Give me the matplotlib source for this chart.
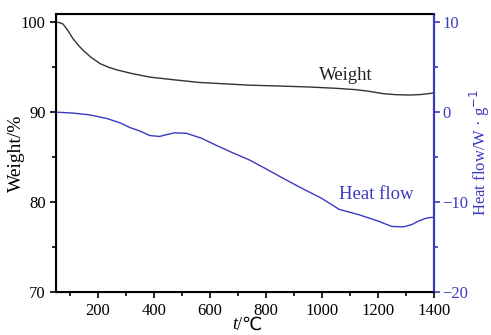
import matplotlib.pyplot as plt
from matplotlib.ticker import MultipleLocator

plt.rcParams['font.family'] = ['Liberation Serif', 'DejaVu Sans']

# 热重曲线 (温度, 失重%)
t_w = [50, 62, 75, 92, 110, 128, 146, 175, 207, 237, 267, 320, 384, 470, 562, 650, 740,
       850, 950, 1050, 1120, 1160, 1190, 1220, 1260, 1310, 1350, 1392, 1400]
weight = [100.0, 99.95, 99.8, 99.1, 98.2, 97.5, 96.9, 96.1, 95.4, 95.0, 94.7, 94.3, 93.9,
          93.6, 93.3, 93.15, 93.0, 92.9, 92.8, 92.65, 92.5, 92.35, 92.2, 92.05, 91.95, 91.9,
          91.95, 92.1, 92.15]

# 热流曲线 (温度, W/g)
t_h = [50, 110, 170, 231, 280, 313, 350, 385, 420, 445, 473, 516, 570, 623, 680, 740, 800,
       858, 918, 1000, 1061, 1132, 1200, 1249, 1290, 1320, 1345, 1370, 1388, 1400]
heat = [0.0, -0.1, -0.3, -0.7, -1.2, -1.7, -2.1, -2.6, -2.7, -2.5, -2.3, -2.35, -2.9, -3.7,
        -4.5, -5.3, -6.3, -7.3, -8.3, -9.6, -10.8, -11.4, -12.1, -12.7, -12.75, -12.5, -12.1,
        -11.8, -11.7, -11.7]

blue = '#3a3ac0'
fig = plt.figure(figsize=(4.91, 3.35), dpi=100)
ax = fig.add_axes([0.114, 0.128, 0.770, 0.83])
ax.plot(t_w, weight, color='#333333', lw=1)
ax.set_xlim(50, 1400)
ax.set_ylim(70, 100.9)
ax.set_yticks([70, 80, 90, 100])
ax.yaxis.set_minor_locator(MultipleLocator(5))
ax.set_xticks(range(200, 1401, 200))
ax.xaxis.set_minor_locator(MultipleLocator(100))
ax.tick_params(labelsize=12, length=4, width=1.2, direction='out')
ax.tick_params(which='minor', length=3, width=1.2)
for s in ax.spines.values():
    s.set_linewidth(1.5)
ax.set_ylabel('Weight/%', fontsize=14)
ax.yaxis.set_label_coords(-0.083, 0.5)
# 横坐标标签: 斜体 t
fig.text(0.483, 0.005, 't', fontsize=13, style='italic', ha='right', va='bottom')
fig.text(0.483, 0.005, '/\u2103', fontsize=13, ha='left', va='bottom',
         family=['Liberation Serif', 'DejaVu Sans'])
ax.text(1086, 94.1, 'Weight', fontsize=13.5, color='#222222', ha='center', va='center')

ax2 = ax.twinx()
ax2.plot(t_h, heat, color=blue, lw=1)
ax2.set_ylim(-20, 10.9)
ax2.set_yticks([-20, -10, 0, 10])
ax2.set_yticklabels(['\u221220', '\u221210', '0', '10'])
ax2.yaxis.set_minor_locator(MultipleLocator(5))
ax2.tick_params(labelsize=12, length=4, width=1.2, colors=blue, pad=2)
ax2.tick_params(which='minor', length=3, width=1.2, colors=blue)
ax2.spines['right'].set_color(blue)
ax2.spines['right'].set_linewidth(1.5)
ax2.set_ylabel('Heat flow/W \u00b7 g$^{-1}$', fontsize=12, color=blue)
ax2.yaxis.set_label_coords(1.09, 0.5)
ax2.text(1192, -9.2, 'Heat flow', fontsize=13.5, color=blue, ha='center', va='center')

plt.savefig('out.png', dpi=100)
